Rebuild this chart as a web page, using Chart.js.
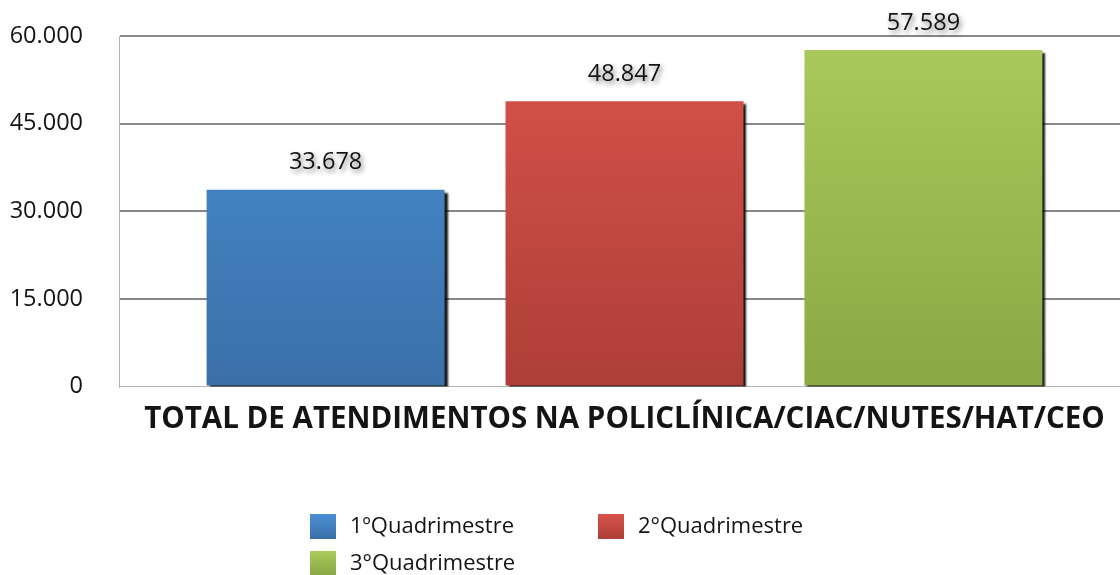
<!DOCTYPE html>
<html><head><meta charset="utf-8">
<script src="https://cdn.jsdelivr.net/npm/chart.js@4/dist/chart.umd.min.js"></script>
<style>html,body{margin:0;padding:0;background:#fff;overflow:hidden;}#wrap{width:1120px;height:575px;position:relative;overflow:hidden;}canvas{display:block;}</style>
</head><body><div id="wrap"><canvas id="c" width="1130" height="575"></canvas></div>
<script>
const categories = ["TOTAL DE ATENDIMENTOS NA POLICLÍNICA/CIAC/NUTES/HAT/CEO"];
const seriesNames = ["1ºQuadrimestre", "2°Quadrimestre", "3°Quadrimestre"];
const q1Values = [33678];
const q2Values = [48847];
const q3Values = [57589];
const yTicks = [0, 15000, 30000, 45000, 60000];
const seriesColors = [["#4a8fd5", "#3a70a8"], ["#d9534a", "#ad3f38"], ["#a9ca5b", "#8aa843"]];

const fmt = v => v === 0 ? "0" : v.toLocaleString("de-DE");
const FONT = "'Open Sans', 'Liberation Sans', sans-serif";

function grad(i) {
  return function(ctx) {
    const ch = ctx.chart, a = ch.chartArea;
    if (!a) return seriesColors[i][0];
    const el = ctx.element;
    const top = el && el.y !== undefined ? el.y : a.top;
    const g = ch.ctx.createLinearGradient(0, top, 0, a.bottom);
    g.addColorStop(0, seriesColors[i][0]);
    g.addColorStop(1, seriesColors[i][1]);
    return g;
  };
}

const shadowPlugin = {
  id: 'barShadow',
  beforeDatasetsDraw(chart) {
    const c = chart.ctx; c.save();
    c.shadowColor = 'rgba(0,0,0,0.9)'; c.shadowBlur = 2; c.shadowOffsetX = 3; c.shadowOffsetY = 3;
  },
  afterDatasetsDraw(chart) {
    chart.ctx.restore();
    const c = chart.ctx;
    chart.data.datasets.forEach((ds, di) => {
      const meta = chart.getDatasetMeta(di);
      meta.data.forEach((el, i) => {
        c.save();
        c.font = "23.5px " + FONT;
        c.textAlign = 'center'; c.textBaseline = 'middle';
        c.shadowColor = 'rgba(0,0,0,0.5)'; c.shadowBlur = 5; c.shadowOffsetX = 2; c.shadowOffsetY = 3;
        c.fillStyle = '#141414';
        c.fillText(fmt(ds.data[i]), el.x, el.y - 27);
        c.restore();
      });
    });
  }
};

const legendPlugin = {
  id: 'customLegend',
  afterDraw(chart) {
    const c = chart.ctx;
    const pos = [[310, 514], [598, 514], [310, 551]];
    chart.data.datasets.forEach((ds, i) => {
      const [x, y] = pos[i];
      const g = c.createLinearGradient(0, y, 0, y + 25);
      g.addColorStop(0, seriesColors[i][0]); g.addColorStop(1, seriesColors[i][1]);
      c.fillStyle = g; c.fillRect(x, y, 26, 25);
      c.fillStyle = '#141414';
      c.font = "22px " + FONT; c.textAlign = 'left'; c.textBaseline = 'middle';
      c.fillText(ds.label, x + 40, y + 13);
    });
  }
};

new Chart(document.getElementById('c'), {
  type: 'bar',
  data: {
    labels: categories,
    datasets: [
      { label: seriesNames[0], data: q1Values, backgroundColor: grad(0) },
      { label: seriesNames[1], data: q2Values, backgroundColor: grad(1) },
      { label: seriesNames[2], data: q3Values, backgroundColor: grad(2) }
    ]
  },
  options: {
    responsive: false, animation: false,
    layout: { padding: { top: 36, right: 0, bottom: 138, left: 0 } },
    categoryPercentage: 0.887, barPercentage: 0.796,
    plugins: { legend: { display: false }, tooltip: { enabled: false } },
    scales: {
      x: {
        grid: { display: false, drawTicks: false },
        border: { display: true, color: '#b4b4b4', width: 1 },
        ticks: { display: false },
        title: { display: true, text: categories[0], color: '#141414', padding: { top: 15, bottom: 0 }, font: { family: FONT, size: 29.5, weight: 'bold' } }
      },
      y: {
        min: 0, max: 60000,
        afterBuildTicks: s => { s.ticks = yTicks.map(v => ({ value: v })); },
        afterFit: s => { s.width = 119; s.paddingTop = 0; s.paddingBottom = 0; },
        grid: {
          drawTicks: false,
          color: ctx => ctx.tick && ctx.tick.value === 0 ? 'rgba(0,0,0,0)' : '#878787',
          lineWidth: 2
        },
        border: { display: true, color: '#b4b4b4', width: 1 },
        ticks: { color: '#141414', padding: 36, font: { family: FONT, size: 23.5 }, callback: v => fmt(v) }
      }
    }
  },
  plugins: [shadowPlugin, legendPlugin]
});
</script></body></html>
